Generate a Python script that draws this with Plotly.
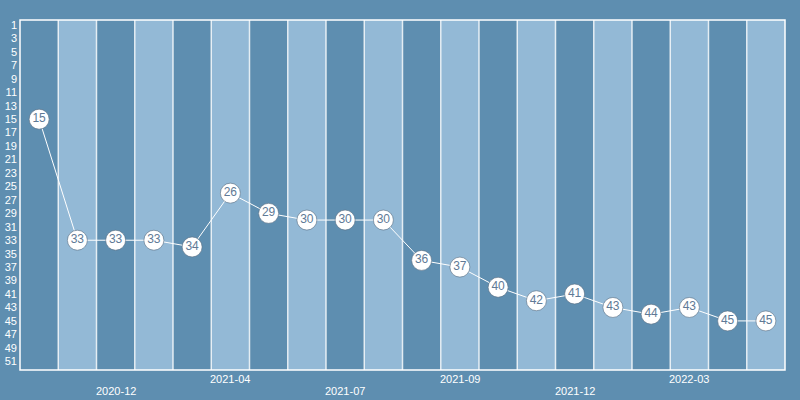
import plotly.graph_objects as go

# ranking per period (lower is better, axis reversed)
periods = [f"P{i + 1}" for i in range(20)]
ranks = [15, 33, 33, 33, 34, 26, 29, 30, 30, 30, 36, 37, 40, 42, 41, 43, 44, 43, 45, 45]
label_idx = [2, 5, 8, 11, 14, 17]
label_text = ["2020-12", "2021-04", "2021-07", "2021-09", "2021-12", "2022-03"]
y_ticks = list(range(1, 52, 2))

DARK = "rgb(94,142,176)"
LIGHT = "rgb(147,185,214)"
FONT = "Liberation Sans, Arial, sans-serif"

fig = go.Figure()
fig.add_trace(go.Scatter(
    x=periods, y=ranks, mode="lines+markers+text",
    text=[str(r) for r in ranks], textposition="middle center",
    textfont=dict(color="rgb(96,122,150)", size=12, family=FONT),
    line=dict(color="white", width=1),
    marker=dict(size=20, color="white", line=dict(color="rgba(90,110,130,0.6)", width=1)),
    cliponaxis=False, hoverinfo="skip",
))

shapes = []
for i in range(len(periods)):
    if i % 2 == 1:
        shapes.append(dict(type="rect", xref="x", yref="paper", x0=i - 0.5, x1=i + 0.5,
                           y0=0, y1=1, fillcolor=LIGHT, line=dict(width=0), layer="below"))
for i in range(len(periods) - 1):
    shapes.append(dict(type="line", xref="x", yref="paper", x0=i + 0.5, x1=i + 0.5,
                       y0=0, y1=1, line=dict(color="rgba(255,255,255,0.8)", width=1.5), layer="below"))
shapes.append(dict(type="rect", xref="paper", yref="paper", x0=0, x1=1, y0=0, y1=1,
                   line=dict(color="white", width=1.5), layer="below"))

annotations = []
for k, (i, t) in enumerate(zip(label_idx, label_text)):
    annotations.append(dict(x=periods[i], y=0, xref="x", yref="paper", text=t,
                            showarrow=False, yanchor="top", yshift=-1 if k % 2 else -13,
                            font=dict(color="white", size=11, family=FONT)))

fig.update_layout(
    width=800, height=400,
    paper_bgcolor=DARK, plot_bgcolor=DARK,
    margin=dict(l=20, r=15, t=20, b=30),
    showlegend=False,
    shapes=shapes, annotations=annotations,
    xaxis=dict(type="category", showticklabels=False, showgrid=False, zeroline=False,
               range=[-0.5, len(periods) - 0.5], automargin=False),
    yaxis=dict(range=[52.3, 0.25], tickvals=y_ticks, showgrid=False, zeroline=False,
               automargin=False,
               tickfont=dict(color="white", size=11, family=FONT), ticklabelstandoff=2),
)

fig.write_html("out.html", config={"displayModeBar": False},
               post_script="document.body.style.margin='0';")
